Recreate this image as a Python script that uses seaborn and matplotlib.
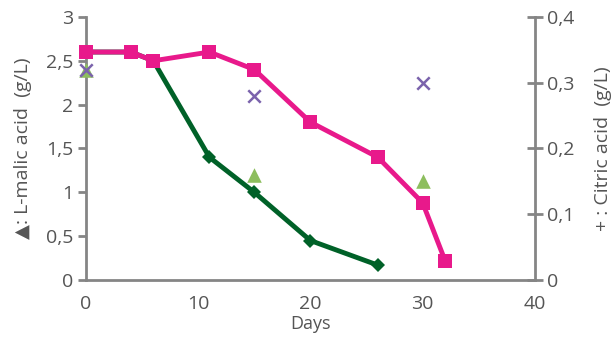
import pandas as pd
import seaborn as sns
import matplotlib.pyplot as plt

# data
days_pink = [0, 4, 6, 11, 15, 20, 26, 30, 32]
pink = [2.6, 2.6, 2.5, 2.6, 2.4, 1.8, 1.4, 0.88, 0.22]
days_green = [0, 4, 6, 11, 15, 20, 26]
green = [2.6, 2.6, 2.5, 1.4, 1.0, 0.45, 0.17]
days_malic = [0, 15, 30]
malic = [2.4, 1.2, 1.13]
days_citric = [0, 15, 30]
citric = [0.32, 0.28, 0.30]

sns.set_style("white")
plt.rcParams['font.family'] = ['Open Sans', 'DejaVu Sans']
grey = '#858585'
txt = '#555555'

fig = plt.figure(figsize=(6.12, 3.39), dpi=100)
ax = fig.add_axes([0.1405, 0.174, 0.7335, 0.776])

sns.lineplot(x=days_green, y=green, ax=ax, color='#006128', lw=3.5,
             marker='D', markersize=7, markeredgewidth=0, zorder=2)
sns.lineplot(x=days_pink, y=pink, ax=ax, color='#E8198B', lw=3.5,
             marker='s', markersize=10, markeredgewidth=0, zorder=3)
sns.scatterplot(x=days_malic, y=malic, ax=ax, color='#8DBE5E', marker='^',
                s=110, linewidth=0, zorder=4)

ax.set_xlim(0, 40)
ax.set_ylim(0, 3)
ax.set_xticks([0, 10, 20, 30, 40])
ax.set_yticks([0, 0.5, 1, 1.5, 2, 2.5, 3])
ax.set_yticklabels(['0', '0,5', '1', '1,5', '2', '2,5', '3'])
ax.set_xlabel('Days', color=txt, fontsize=13, labelpad=1)
ax.set_ylabel('▲: L-malic acid  (g/L)', color=txt, fontsize=14, labelpad=10)

ax2 = ax.twinx()
sns.scatterplot(x=days_citric, y=citric, ax=ax2, color='#7B63AC', marker='x',
                s=80, linewidth=1.8, zorder=5)
ax2.set_ylim(0, 0.4)
ax2.set_yticks([0, 0.1, 0.2, 0.3, 0.4])
ax2.set_yticklabels(['0', '0,1', '0,2', '0,3', '0,4'])
ax2.set_ylabel('+ : Citric acid  (g/L)', color=txt, fontsize=14, labelpad=14)

for a in (ax, ax2):
    for s in a.spines.values():
        s.set_color(grey)
        s.set_linewidth(2)
    a.spines['top'].set_visible(False)
    a.tick_params(colors=grey, labelcolor=txt, labelsize=14, width=2)
ax.spines['right'].set_visible(False)
ax2.spines['left'].set_visible(False)
ax2.spines['bottom'].set_visible(False)
ax.tick_params(axis='y', direction='out', length=6, pad=3)
ax.tick_params(axis='x', direction='out', length=5, pad=6)
ax2.tick_params(axis='y', direction='inout', length=12, pad=3)
for c in ax.collections + ax.lines:
    c.set_clip_on(False)
for c in ax2.collections:
    c.set_clip_on(False)

fig.savefig('out.png', dpi=100)
